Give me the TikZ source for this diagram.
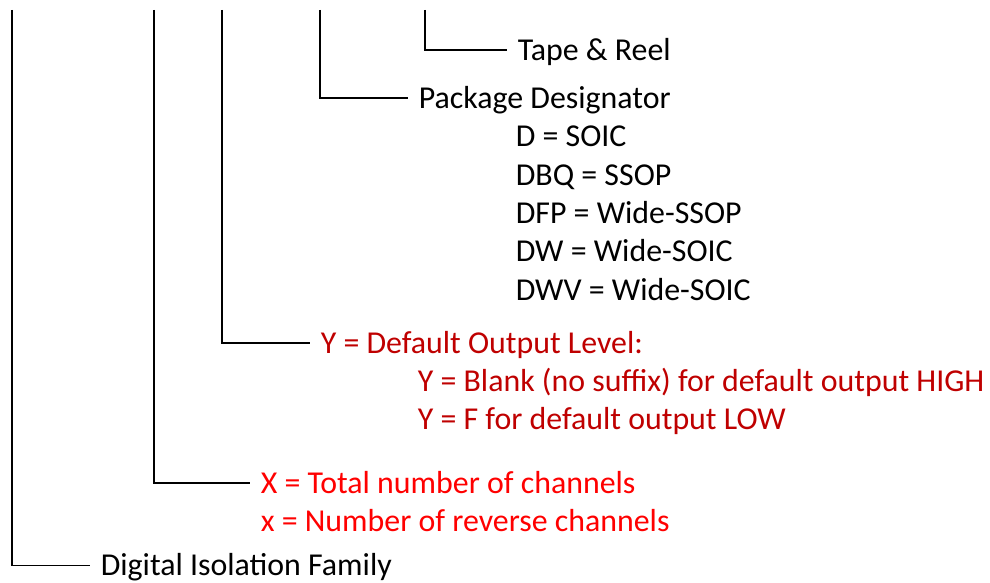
\documentclass[tikz,border=0pt]{standalone}
\usepackage{fontspec}
\setmainfont{Carlito}
\usepackage{tikz}

\begin{document}
\begin{tikzpicture}[x=1bp,y=1bp,line join=miter,
  leaf/.style={anchor=west,inner xsep=10bp,inner ysep=0bp,text height=20.6bp,text depth=0bp,
    font=\fontsize{32}{38}\selectfont}]
  \pgfsetlinewidth{1.6bp}
  \useasboundingbox (0,0) rectangle (990,583);
  \definecolor{darkred}{rgb}{0.75,0.0,0.0}
  \definecolor{brightred}{rgb}{1.0,0.0,0.0}
%%
\pgfsetcolor{black}
  % Node: top ends of the stems
  \coordinate (top1) at (12,573);
  \coordinate (top2) at (154,573);
  \coordinate (top3) at (222,573);
  \coordinate (top4) at (320,573);
  \coordinate (top5) at (425,573);
  % Node: Tape & Reel
  \node[leaf] (tape) at (507,533) {Tape \& Reel};
  % Node: Package Designator
  \node[leaf] (pkg) at (408,485) {Package Designator};
  \node[leaf] (soic) at (505,447) {D = SOIC};
  \node[leaf] (ssop) at (505,408) {DBQ = SSOP};
  \node[leaf] (wssop) at (505,370) {DFP = Wide-SSOP};
  \node[leaf] (wsoic) at (505,332) {DW = Wide-SOIC};
  \node[leaf] (wvsoic) at (505,293) {DWV = Wide-SOIC};
  % Node: default output level
  \node[leaf,text=darkred] (dflt) at (310,240) {Y = Default Output Level:};
  \node[leaf,text=darkred] (high) at (407,202) {Y = Blank (no suffix) for default output HIGH};
  \node[leaf,text=darkred] (low) at (407,164) {Y = F for default output LOW};
  % Node: channels
  \node[leaf,text=brightred] (total) at (250,100) {X = Total number of channels};
  \node[leaf,text=brightred] (rev) at (250,62) {x = Number of reverse channels};
  % Node: family
  \node[leaf] (family) at (90,17.5) {Digital Isolation Family};
  % Edge: top5 -- tape
  \draw (top5) |- (tape.west);
  % Edge: top4 -- pkg
  \draw (top4) |- (pkg.west);
  % Edge: top3 -- dflt
  \draw (top3) |- (dflt.west);
  % Edge: top2 -- total
  \draw (top2) |- (total.west);
  % Edge: top1 -- family
  \draw (top1) |- (family.west);
%
\end{tikzpicture}
\end{document}
